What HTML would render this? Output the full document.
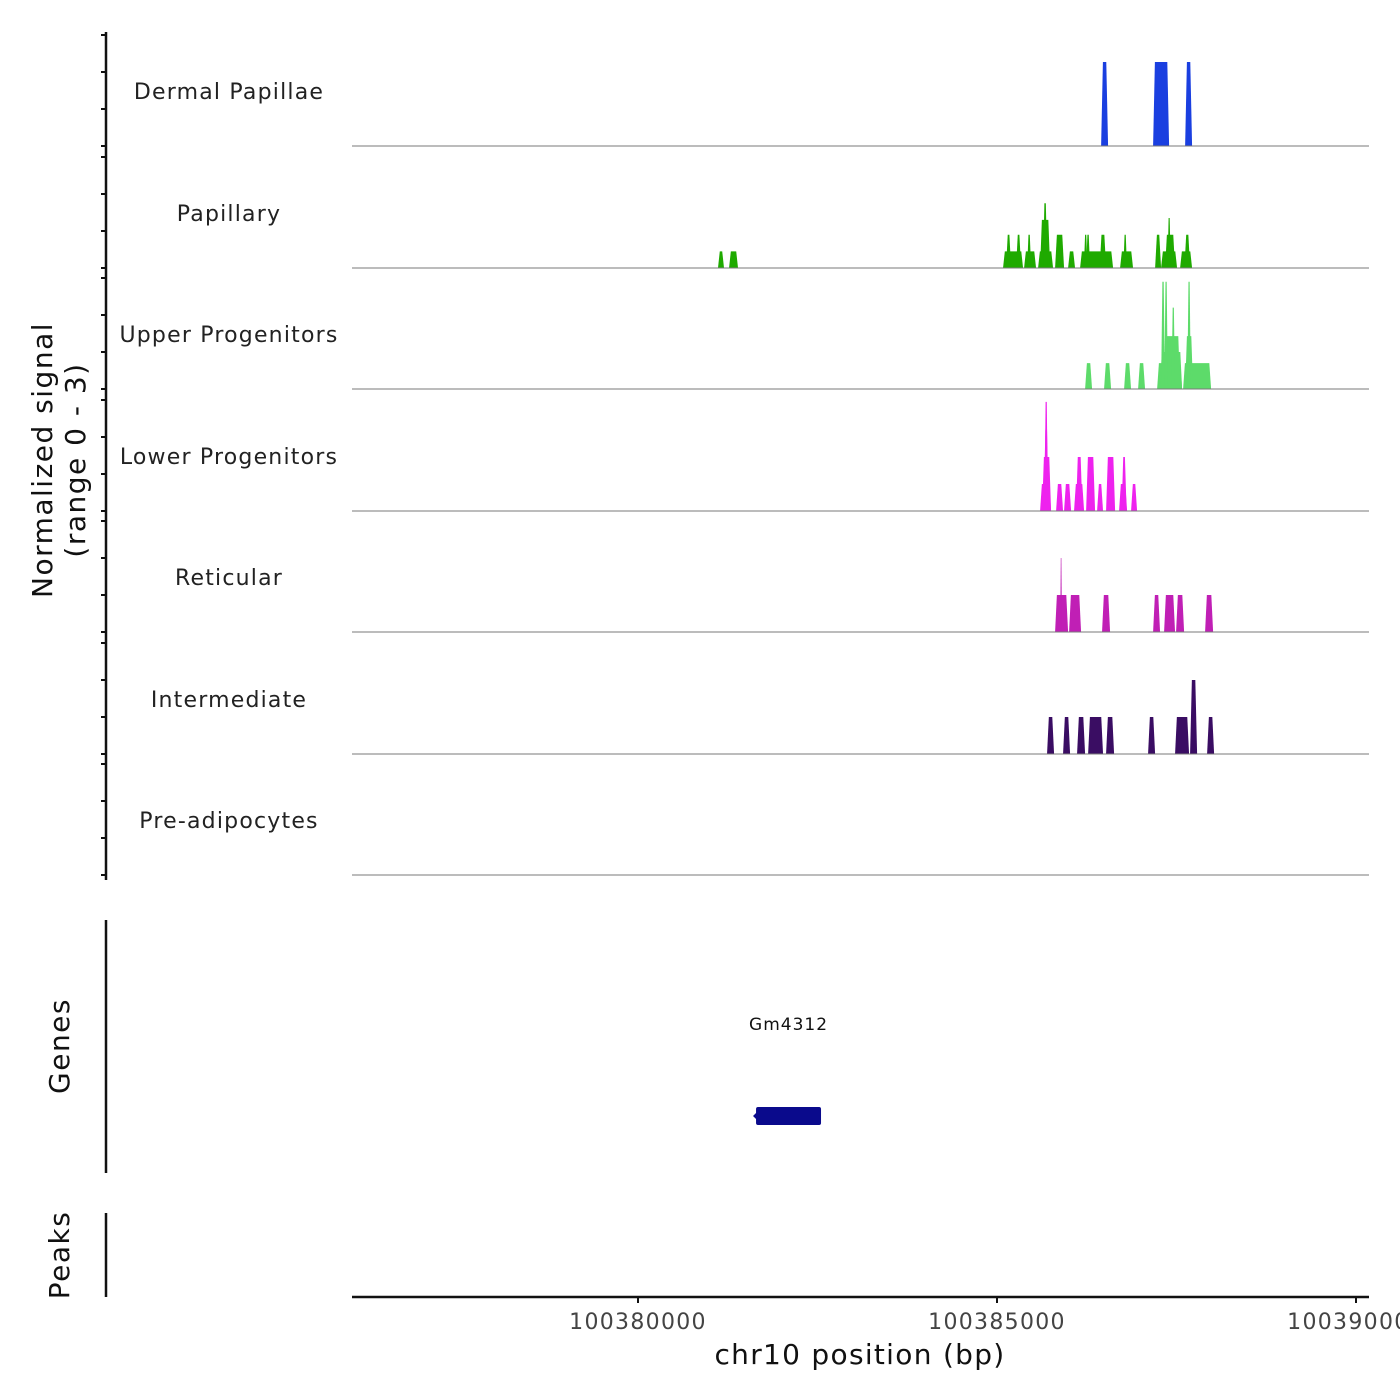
<!DOCTYPE html>
<html><head><meta charset="utf-8"><style>
body{margin:0;background:#fff;}
svg{display:block;font-family:"DejaVu Sans","Liberation Sans",sans-serif;}
</style></head><body>
<svg id="chart" width="1400" height="1400" viewBox="0 0 1400 1400">
<g id="tracks"></g>
<g id="axes"></g>
</svg>
<script>
const regionStart = 100380000;
const trackNames = ["Dermal Papillae","Papillary","Upper Progenitors","Lower Progenitors","Reticular","Intermediate","Pre-adipocytes"];
const trackColors = ["#1a3fe0","#1faa00","#5ddb6a","#ee22ee","#c01fb5","#3a0d63","#888888"];
// peaks: [startOffsetBp, endOffsetBp, value]
const dpPeaks = [[6450,6547,2.27],[7174,7397,2.27],[7620,7717,2.27]];
const papPeaks = [[1114,1198,0.45],[1268,1393,0.45],[5084,5363,0.45],[5126,5196,0.9],[5266,5335,0.9],[5377,5544,0.45],[5420,5475,0.9],[5572,5781,0.45],[5600,5740,1.3],[5640,5700,1.75],[5809,5934,0.9],[5990,6087,0.45],[6157,6617,0.45],[6210,6260,0.9],[6241,6296,0.9],[6430,6520,0.9],[6714,6895,0.45],[6760,6810,0.9],[7202,7285,0.9],[7285,7508,0.45],[7341,7480,0.9],[7375,7420,1.35],[7550,7717,0.45],[7610,7690,0.9]];
const upPeaks = [[6227,6324,0.7],[6491,6589,0.7],[6770,6867,0.7],[6965,7062,0.7],[7230,7578,0.7],[7592,7982,0.7],[7271,7578,1.0],[7341,7550,1.43],[7285,7340,2.9],[7330,7380,2.9],[7430,7480,2.2],[7620,7731,1.43],[7650,7700,2.9]];
const lpPeaks = [[5600,5753,0.73],[5628,5753,1.46],[5650,5720,2.2],[5660,5710,2.95],[5823,5920,0.73],[5934,6032,0.73],[6073,6213,0.73],[6100,6190,1.46],[6241,6366,1.46],[6394,6477,0.73],[6519,6645,1.46],[6700,6812,0.73],[6735,6805,1.46],[6867,6951,0.73]];
const retPeaks = [[5809,5990,1.0],[5880,5905,2.0],[6004,6171,1.0],[6463,6575,1.0],[7174,7271,1.0],[7327,7480,1.0],[7494,7606,1.0],[7898,8010,1.0]];
const intPeaks = [[5697,5795,1],[5920,6018,1],[6115,6227,1],[6269,6477,1],[6519,6631,1],[7104,7202,1],[7480,7675,1],[7689,7787,2],[7926,8024,1]];
const prePeaks = [];
const xTicks = [100380000,100385000,100390000];
const geneName = "Gm4312";
const geneStart = 1644, geneEnd = 2549;

const NS="http://www.w3.org/2000/svg";
const plotL=352, plotR=1369;
const xs = bp => 638 + (bp-100380000)/5000*359;
const baselines=[146,268,389,511,632,754,875];
const unitPx=37;
const ys=(i,v)=>baselines[i]-v*unitPx;
function mk(tag,attrs,parent){const e=document.createElementNS(NS,tag);for(const k in attrs)e.setAttribute(k,attrs[k]);parent.appendChild(e);return e;}
const tracksG=document.getElementById('tracks'), axesG=document.getElementById('axes');
const allPeaks=[dpPeaks,papPeaks,upPeaks,lpPeaks,retPeaks,intPeaks,prePeaks];
allPeaks.forEach((pk,i)=>{
  const g=mk('g',{},tracksG);
  
  
  pk.forEach(p=>{
    const x0=xs(regionStart+p[0]), x1=xs(regionStart+p[1]);
    const s=Math.min(1.8,(x1-x0)/3), b=baselines[i], t=ys(i,p[2]);
    const poly=mk('polygon',{points:`${x0},${b} ${x0+s},${t} ${x1-s},${t} ${x1},${b}`,fill:trackColors[i]},g);
    
    
  });
  const bl=mk('line',{x1:plotL,x2:plotR,y1:baselines[i],y2:baselines[i],stroke:'#7a7a7a','stroke-width':1},g);
  
  
  const lab=mk('text',{x:229,y:baselines[i]-47,'text-anchor':'middle','font-size':22,'letter-spacing':1.2,fill:'#222'},g);
  lab.textContent=trackNames[i];
  
  
  for(let k=0;k<=3;k++){
    const tk=mk('line',{x1:101,x2:106,y1:ys(i,k),y2:ys(i,k),stroke:'#111','stroke-width':2},axesG);
    
    
  }
});
[[32,880,'signal-axis-line'],[920,1173,'genes-axis-line'],[1213,1297,'peaks-axis-line']].forEach(a=>{
  const l=mk('line',{x1:106,x2:106,y1:a[0],y2:a[1],stroke:'#111','stroke-width':2.5},axesG);
  
  
});
const yt=mk('text',{transform:'translate(52,460) rotate(-90)','text-anchor':'middle','font-size':28,'letter-spacing':1.5,fill:'#111'},axesG);


const t1=mk('tspan',{x:0,dy:0},yt);t1.textContent='Normalized signal';
const t2=mk('tspan',{x:0,dy:33},yt);t2.textContent='(range 0 - 3)';
const gt=mk('text',{transform:'translate(69,1046) rotate(-90)','text-anchor':'middle','font-size':28,'letter-spacing':1.5,fill:'#111'},axesG);
gt.textContent='Genes';


const pt=mk('text',{transform:'translate(69,1255) rotate(-90)','text-anchor':'middle','font-size':28,'letter-spacing':1.5,fill:'#111'},axesG);
pt.textContent='Peaks';


const gr=mk('rect',{x:xs(regionStart+geneStart),y:1107,width:xs(regionStart+geneEnd)-xs(regionStart+geneStart),height:18,rx:2,fill:'#0a0a8c'},tracksG);


const gar=mk('polygon',{points:`${xs(regionStart+geneStart)-3},1116 ${xs(regionStart+geneStart)+1},1112 ${xs(regionStart+geneStart)+1},1120`,fill:'#0a0a8c'},tracksG);


const gl=mk('text',{x:(xs(regionStart+geneStart)+xs(regionStart+geneEnd))/2,y:1030,'text-anchor':'middle','font-size':17,'letter-spacing':1,fill:'#111'},tracksG);
gl.textContent=geneName;


const xa=mk('line',{x1:plotL,x2:plotR,y1:1297,y2:1297,stroke:'#111','stroke-width':2.5},axesG);


xTicks.forEach(v=>{
  const x=xs(v);
  const tk=mk('line',{x1:x,x2:x,y1:1297,y2:1303,stroke:'#111','stroke-width':2},axesG);
  
  
  const tl=mk('text',{x:x,y:1329,'text-anchor':'middle','font-size':22,'letter-spacing':1.3,fill:'#444'},axesG);
  tl.textContent=v;
  
  
});
const xt=mk('text',{x:860,y:1364,'text-anchor':'middle','font-size':28,'letter-spacing':1.3,fill:'#111'},axesG);
xt.textContent='chr10 position (bp)';


</script>
</body></html>
